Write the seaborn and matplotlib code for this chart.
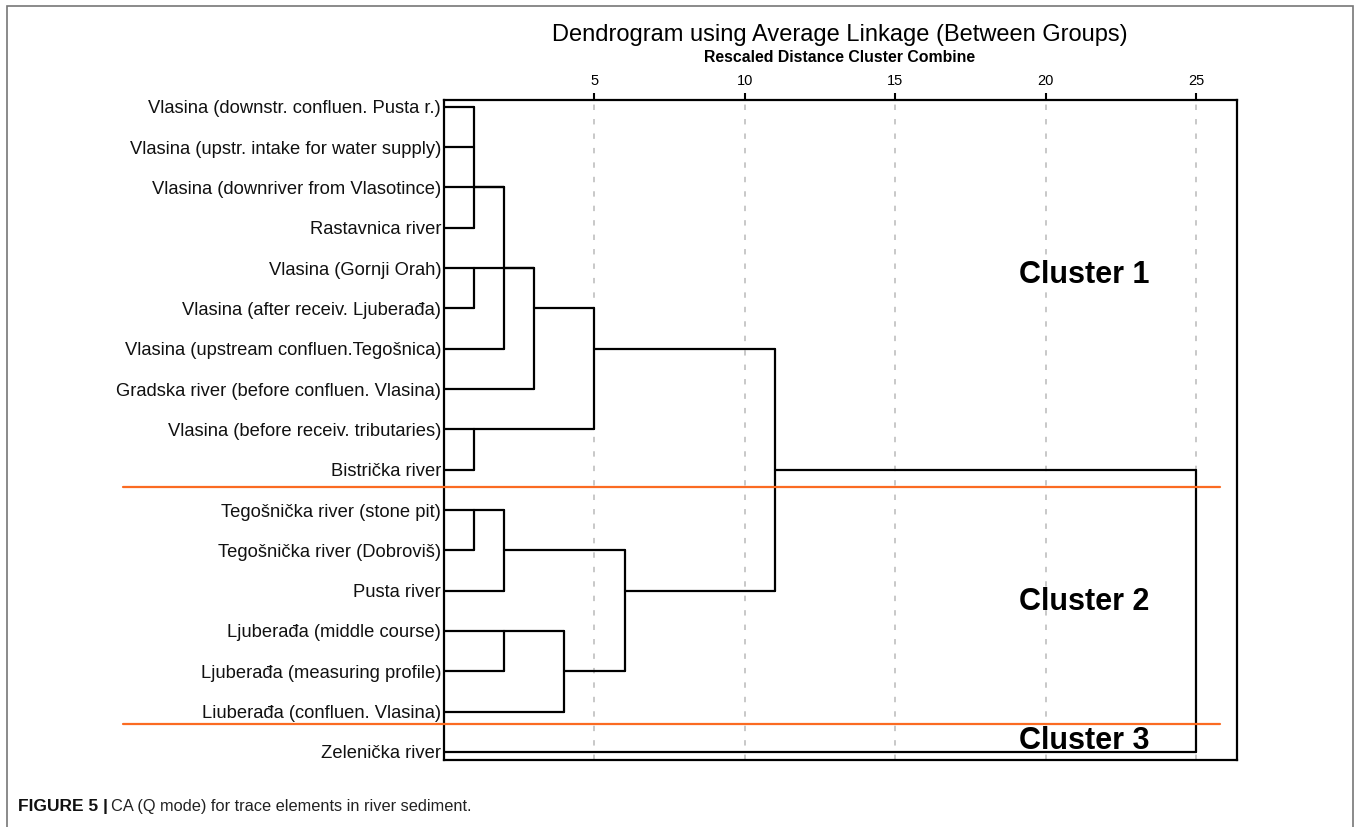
import pandas as pd
import seaborn as sns
import matplotlib.pyplot as plt
from matplotlib.patches import Rectangle

# leaves, top to bottom
sites = [
    "Vlasina (downstr. confluen. Pusta r.)",
    "Vlasina (upstr. intake for water supply)",
    "Vlasina (downriver from Vlasotince)",
    "Rastavnica river",
    "Vlasina (Gornji Orah)",
    "Vlasina (after receiv. Ljuberađa)",
    "Vlasina (upstream confluen.Tegošnica)",
    "Gradska river (before confluen. Vlasina)",
    "Vlasina (before receiv. tributaries)",
    "Bistrička river",
    "Tegošnička river (stone pit)",
    "Tegošnička river (Dobroviš)",
    "Pusta river",
    "Ljuberađa (middle course)",
    "Ljuberađa (measuring profile)",
    "Liuberađa (confluen. Vlasina)",
    "Zelenička river",
]

# merges as drawn by SPSS: ids 17.. in order, children are cluster ids
merge_children = [[0, 1, 3], [17, 2, 6], [4, 5], [18, 19, 7], [8, 9], [20, 21],
                  [10, 11], [23, 12], [13, 14], [25, 15], [24, 26], [22, 27], [28, 16]]
merge_heights = [1, 2, 1, 3, 1, 5, 1, 2, 2, 4, 6, 11, 25]
merge_rows = [2, 4, 4, 5, 8, 6, 10, 11, 13, 14, 12, 9, 9]

dist_ticks = [5, 10, 15, 20, 25]

# build segments
n = len(sites)
height = {i: 0 for i in range(n)}
row = {i: i for i in range(n)}
segs = []
for k, (ch, h, r) in enumerate(zip(merge_children, merge_heights, merge_rows)):
    cid = n + k
    for c in ch:
        segs.append([(height[c], row[c]), (h, row[c])])
    rows_c = [row[c] for c in ch]
    segs.append([(h, min(rows_c)), (h, max(rows_c))])
    height[cid] = h
    row[cid] = r

recs = []
for s, seg in enumerate(segs):
    for x, y in seg:
        recs.append({"seg": s, "dist": x, "row": y})
df = pd.DataFrame(recs)

sns.set_theme(style="white")
plt.rcParams['font.family'] = ['Liberation Sans', 'DejaVu Sans']
plt.rcParams['text.color'] = 'black'
plt.rcParams['xtick.color'] = 'black'
plt.rcParams['ytick.color'] = 'black'

fig = plt.figure(figsize=(13.56, 8.27), dpi=100)
ax = fig.add_axes([444 / 1356, 1 - 760 / 827, (1237 - 444) / 1356, (760 - 100) / 827])

for t in dist_ticks:
    ax.axvline(t, color="#c4c4c4", lw=1.3, ls=(0, (3, 5)), zorder=0)

sns.lineplot(data=df, x="dist", y="row", units="seg", estimator=None, sort=False,
             color="black", lw=1.6, ax=ax, legend=False)

ax.set_xlim(0, 26.35)
ax.set_ylim(16.2, -0.17)
ax.set_xlabel("")
ax.set_ylabel("")

ax.xaxis.tick_top()
ax.set_xticks(dist_ticks)
ax.set_xticklabels([str(t) for t in dist_ticks], fontsize=10.5)
ax.tick_params(axis="x", top=True, direction="out", length=5, width=1.5, pad=3.5, colors="black")
ax.set_yticks(range(n))
ax.set_yticklabels(sites, fontsize=13.2, color="#111111")
ax.tick_params(axis="y", left=False, length=0, pad=2)
for sp in ax.spines.values():
    sp.set_color("black")
    sp.set_linewidth(1.6)

# cluster separators and labels
for yy in [9.43, 15.31]:
    ax.plot([-10.65, 25.8], [yy, yy], color="#fb6b22", lw=1.6, clip_on=False, zorder=3)
for txt, yy in [("Cluster 1", 4.17), ("Cluster 2", 12.28), ("Cluster 3", 15.73)]:
    ax.text(19.1, yy, txt, fontsize=22, fontweight="bold", ha="left", va="center",
            color="black")

fig.text(840 / 1356, 1 - 35 / 827, "Dendrogram using Average Linkage (Between Groups)",
         ha="center", va="center", fontsize=17, color="black")
fig.text(840 / 1356, 1 - 58 / 827, "Rescaled Distance Cluster Combine",
         ha="center", va="center", fontsize=11.4, fontweight="bold", color="black")

fig.text(18 / 1356, 1 - 807 / 827, "FIGURE 5 |", ha="left", va="center",
         fontsize=12.5, fontweight="bold", color="#111111")
fig.text(111 / 1356, 1 - 807 / 827, "CA (Q mode) for trace elements in river sediment.",
         ha="left", va="center", fontsize=11.8, color="#222222")

fig.patches.append(Rectangle((7 / 1356, -0.05), (1353 - 7) / 1356, 1.05 - 6 / 827,
                             transform=fig.transFigure, fill=False, edgecolor="#777777",
                             lw=1.2))

fig.savefig("out.png", dpi=100)
